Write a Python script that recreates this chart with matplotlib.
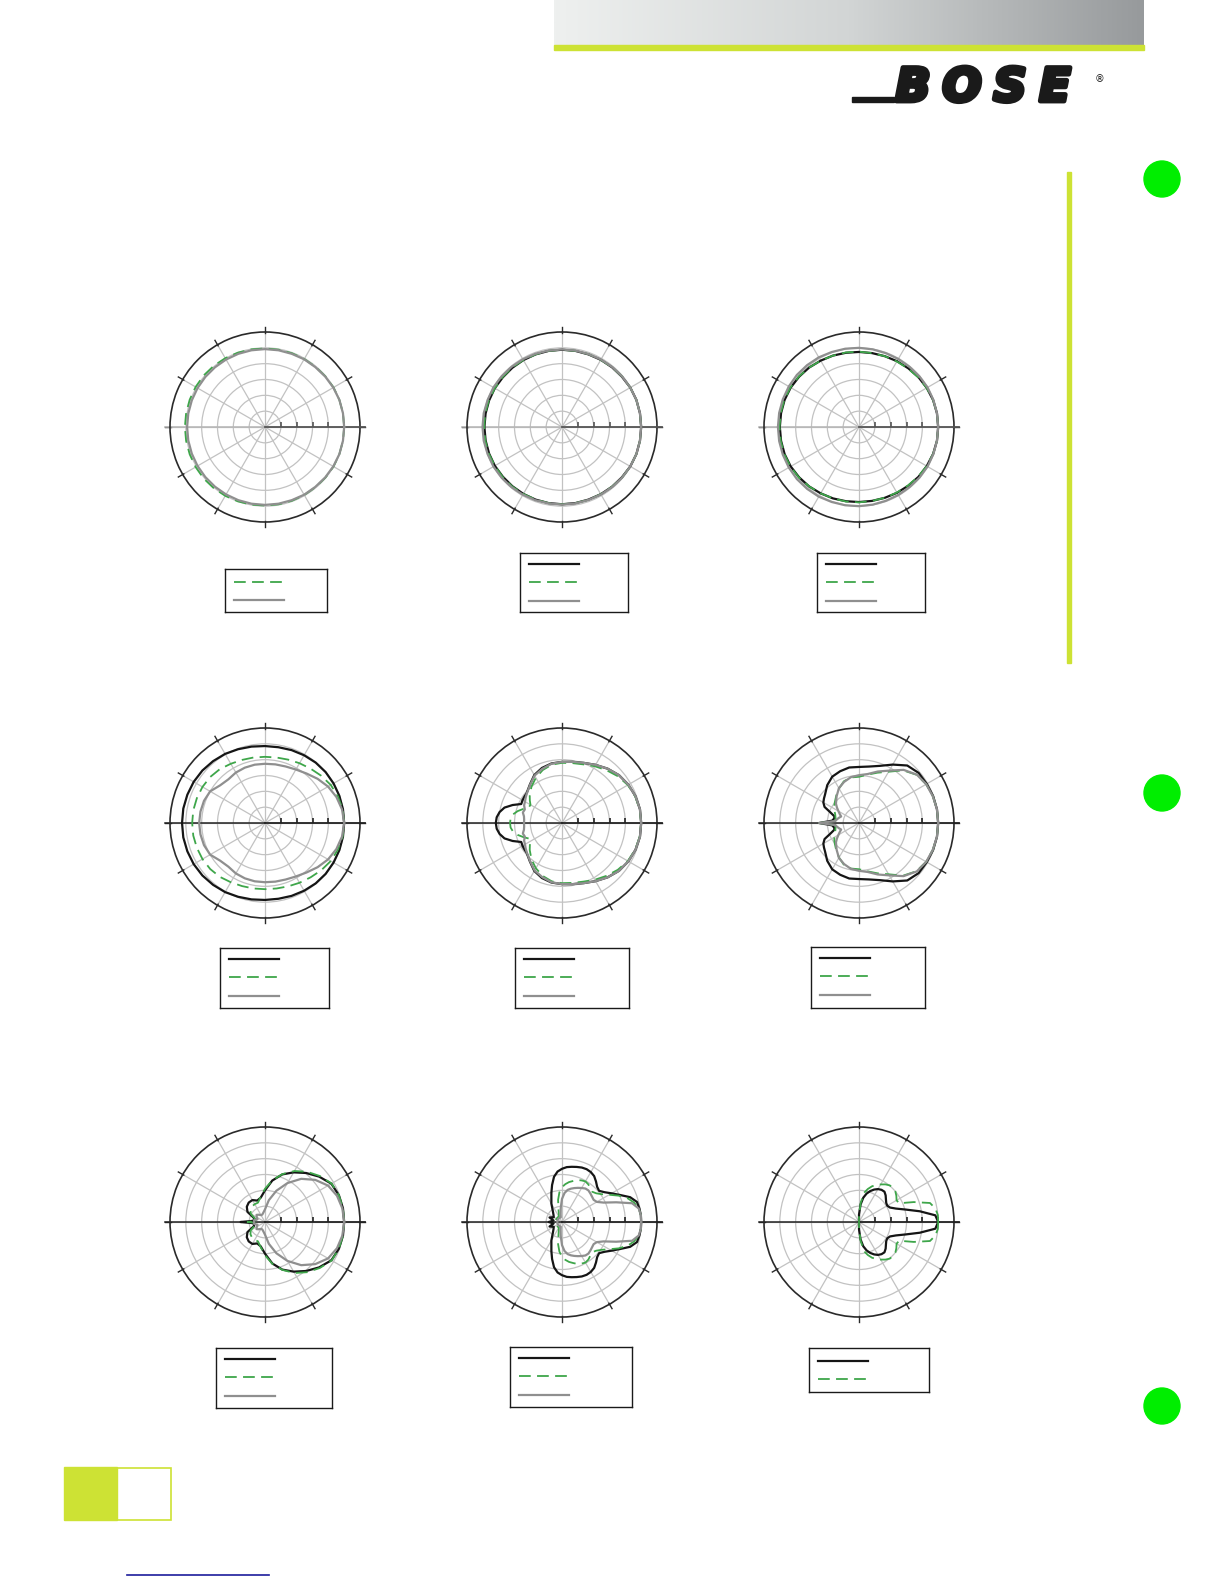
import numpy as np
import matplotlib
matplotlib.use("Agg")
import matplotlib.pyplot as plt
import matplotlib.patheffects as pe
from matplotlib.patches import Rectangle, Circle
from matplotlib.colors import LinearSegmentedColormap

W, H = 1224, 1584

# polar response data, dB relative to on-axis, half plane (pattern is symmetric)
ANG10 = [0, 10, 20, 30, 40, 50, 60, 70, 80, 90, 100, 110, 120, 130, 140, 150, 160, 170, 180]

P1_GREEN = [0, 0, 0, 0, -0.1, -0.2, -0.2, -0.2, -0.2, -0.2, -0.1, 0, 0.1, 0.2, 0.3, 0.3, 0.3, 0.3, 0.3]
P1_GRAY = [0, 0, 0, -0.1, -0.2, -0.3, -0.3, -0.4, -0.4, -0.4, -0.4, -0.4, -0.4, -0.4, -0.4, -0.4, -0.4, -0.4, -0.4]

P2_BLACK = [0, 0, 0, -0.1, -0.3, -0.4, -0.5, -0.6, -0.6, -0.6, -0.6, -0.6, -0.6, -0.6, -0.6, -0.5, -0.5, -0.5, -0.5]
P2_GREEN = [0, 0, 0, -0.1, -0.2, -0.4, -0.5, -0.5, -0.6, -0.6, -0.6, -0.6, -0.6, -0.5, -0.5, -0.5, -0.4, -0.4, -0.4]
P2_GRAY = [0, 0, 0, -0.1, -0.2, -0.3, -0.4, -0.5, -0.5, -0.5, -0.5, -0.4, -0.3, -0.2, -0.1, 0, 0, 0.1, 0.1]

P3_BLACK = [0, 0, -0.1, -0.3, -0.5, -0.8, -1.0, -1.2, -1.3, -1.3, -1.2, -1.0, -0.8, -0.5, -0.3, -0.1, 0, 0, 0]
P3_GREEN = [0, 0, -0.1, -0.3, -0.6, -0.9, -1.1, -1.2, -1.3, -1.2, -1.1, -1.0, -0.8, -0.5, -0.2, 0, 0.1, 0.1, 0.1]
P3_GRAY = [0, 0, 0, 0, -0.1, -0.2, -0.2, -0.2, -0.1, 0, 0.1, 0.2, 0.4, 0.5, 0.6, 0.6, 0.6, 0.6, 0.6]

P4_BLACK = [0, 0, 0, 0, 0, -0.1, -0.3, -0.5, -0.7, -0.7, -0.5, -0.2, 0.2, 0.5, 0.8, 1.0, 1.1, 1.2, 1.2]
P4_GREEN = [0, -0.1, -0.5, -1.0, -1.8, -2.6, -3.2, -3.7, -4.0, -4.1, -4.0, -3.8, -3.4, -2.8, -2.4, -2.2, -2.1, -2.0, -2.0]
P4_GRAY = [0, -0.3, -1.0, -2.0, -3.3, -4.6, -5.5, -6.0, -6.2, -6.3, -6.3, -6.4, -6.6, -7.0, -6.5, -5.0, -4.5, -4.3, -4.2]

ANG_P5 = [0, 10, 20, 30, 40, 50, 60, 70, 80, 90, 100, 110, 120, 130, 140, 145, 150, 155, 160, 165, 170, 175, 180]
P5_BLACK = [0, 0, -0.3, -0.8, -1.5, -2.6, -3.8, -4.8, -5.4, -5.7, -5.9, -6.5, -7.5, -9.2, -10.4, -10.5, -10.6, -10.8,
            -8.4, -6.2, -5.0, -4.3, -4.1]
P5_GREEN = [0, -0.1, -0.4, -1.0, -2.0, -3.2, -4.3, -5.3, -5.8, -6.0, -6.3, -7.2, -8.5, -10.0, -11.7, -12.6, -13.5, -13.4,
            -12.0, -10.5, -9.3, -8.7, -8.6]
P5_GRAY = [0, 0, -0.3, -0.8, -1.5, -2.6, -3.8, -4.8, -5.4, -5.7, -6.0, -6.8, -7.7, -9.3, -10.5, -11.0, -11.5, -11.8,
           -12.5, -12.2, -12.8, -13.0, -13.0]

ANG_P6 = [0, 10, 20, 30, 40, 50, 60, 70, 80, 90, 100, 110, 120, 130, 140, 145, 150, 155, 160, 165, 170, 175, 180]
P6_BLACK = [0, 0, -0.1, -0.3, -0.4, -1.3, -3.7, -5.8, -6.9, -7.3, -7.2, -7.6, -8.1, -9.4, -11.0, -11.5, -12.0, -13.0,
            -15.5, -17.0, -17.0, -16.5, -12.4]
P6_GREEN = [0, 0, -0.2, -0.5, -1.3, -3.3, -6.3, -8.1, -9.5, -10.4, -10.4, -11.0, -12.4, -13.8, -15.0, -15.5, -16.0,
            -16.5, -17.0, -17.3, -17.5, -17.5, -12.4]
P6_GRAY = [0, 0, -0.2, -0.5, -1.2, -3.1, -5.9, -7.7, -9.3, -9.9, -10.3, -11.2, -12.3, -14.0, -15.5, -16.5, -17.5, -18.3,
           -19.0, -18.5, -18.0, -17.5, -12.4]

ANG_P7 = [0, 10, 20, 30, 40, 50, 60, 70, 80, 90, 100, 110, 120, 130, 140, 150, 160, 170, 175, 180]
P7_BLACK = [0, 0, -0.2, -0.8, -2.7, -4.8, -6.9, -9.0, -11.7, -15.0, -17.2, -17.8, -17.0, -17.0, -17.5, -18.6, -21.3,
            -21.5, -21.0, -17.3]
P7_GREEN = [0, 0, -0.2, -0.7, -2.4, -4.3, -6.4, -8.9, -11.6, -14.5, -17.0, -18.5, -18.5, -18.6, -19.0, -19.8, -21.5,
            -22.5, -22.0, -19.5]
P7_GRAY = [0, -0.2, -0.8, -2.0, -4.3, -7.2, -10.8, -14.5, -18.0, -21.0, -22.0, -22.5, -22.5, -22.0, -21.5, -22.0, -22.5,
           -21.5, -21.5, -21.5]

ANG_P8 = [0, 5, 10, 15, 20, 25, 30, 35, 40, 45, 50, 55, 60, 65, 70, 75, 80, 85, 90, 95, 100, 105, 110,
          120, 130, 140, 150, 160, 170, 180]
P8_BLACK = [0, 0, -0.2, -0.5, -2.1, -4.8, -6.9, -8.6, -9.7, -9.3, -8.3, -7.3, -6.8, -6.6, -6.7, -7.0, -7.3, -7.6, -8.2,
            -9.0, -10.5, -12.9, -15.2, -18.3, -20.5, -21.5, -22.0, -20.8, -22.3, -20.8]
P8_GREEN = [0, 0, -0.4, -1.4, -3.0, -5.3, -7.8, -9.7, -10.9, -11.5, -11.1, -10.5, -10.2, -10.5, -10.9, -11.6, -12.2,
            -13.0, -14.0, -15.6, -17.9, -20.7, -22.0, -23.0, -23.0, -23.0, -23.0, -23.0, -23.0, -23.0]
P8_GRAY = [0, 0, -0.4, -2.1, -6.8, -10.5, -12.3, -12.8, -12.6, -12.3, -12.0, -12.1, -12.6, -13.1, -13.6, -14.1, -14.7,
           -15.8, -17.7, -20.5, -22.5, -23.5, -23.5, -23.5, -23.5, -23.5, -23.5, -23.5, -23.5, -23.5]

ANG_P9 = [0, 5, 10, 15, 20, 25, 30, 35, 40, 45, 50, 55, 60, 65, 70, 75, 80, 85, 90,
          100, 110, 120, 130, 140, 150, 160, 170, 180]
P9_BLACK = [0, -0.8, -5.5, -9.8, -12.6, -14.2, -14.7, -14.5, -13.9, -13.1, -12.5, -12.6, -13.0, -13.7, -14.6, -15.7,
            -17.2, -19.5, -22.7, -25, -25, -25, -25, -25, -25, -25, -25, -25]
P9_GREEN = [0, 0, -0.5, -1.8, -6.6, -11.0, -11.3, -10.6, -10.0, -9.8, -9.9, -10.5, -11.3, -12.1, -13.0, -14.2, -15.6,
            -19.0, -23.0, -25, -25, -25, -25, -25, -25, -25, -25, -25]

RINGS = [-20, -15, -10, -5, 0]
R_MIN, R_MAX = -25, 5

LIME = "#cde234"
STYLES = {
    "black": dict(color="#151515", lw=1.6, ls="-"),
    "green": dict(color="#3ea64a", lw=1.3, ls=(0, (6.5, 3.5))),
    "gray": dict(color="#8f8f8f", lw=1.6, ls="-"),
}

# plot centre (px), angle grid, curves, colour of the 0-degree axis
PLOTS = [
    (265, 427, ANG10, [(P1_GREEN, "green"), (P1_GRAY, "gray")], "#555555"),
    (562, 427, ANG10, [(P2_BLACK, "black"), (P2_GREEN, "green"), (P2_GRAY, "gray")], "#555555"),
    (859, 427, ANG10, [(P3_BLACK, "black"), (P3_GREEN, "green"), (P3_GRAY, "gray")], "#555555"),
    (265, 823, ANG10, [(P4_BLACK, "black"), (P4_GREEN, "green"), (P4_GRAY, "gray")], "#222222"),
    (562, 823, ANG_P5, [(P5_BLACK, "black"), (P5_GREEN, "green"), (P5_GRAY, "gray")], "#222222"),
    (859, 823, ANG_P6, [(P6_BLACK, "black"), (P6_GREEN, "green"), (P6_GRAY, "gray")], "#222222"),
    (265, 1222, ANG_P7, [(P7_BLACK, "black"), (P7_GREEN, "green"), (P7_GRAY, "gray")], "#222222"),
    (562, 1222, ANG_P8, [(P8_BLACK, "black"), (P8_GREEN, "green"), (P8_GRAY, "gray")], "#222222"),
    (859, 1222, ANG_P9, [(P9_BLACK, "black"), (P9_GREEN, "green")], "#222222"),
]

# legend boxes (px) and which line styles they hold
LEGENDS = [
    (225, 569, 327, 612, ["green", "gray"]),
    (520, 553, 628, 612, ["black", "green", "gray"]),
    (817, 553, 925, 612, ["black", "green", "gray"]),
    (220, 948, 329, 1008, ["black", "green", "gray"]),
    (515, 948, 629, 1008, ["black", "green", "gray"]),
    (811, 947, 925, 1008, ["black", "green", "gray"]),
    (216, 1348, 332, 1408, ["black", "green", "gray"]),
    (510, 1347, 632, 1407, ["black", "green", "gray"]),
    (809, 1348, 929, 1392, ["black", "green"]),
]


def frac(x0, y0, x1, y1):
    return [x0 / W, 1 - y1 / H, (x1 - x0) / W, (y1 - y0) / H]


fig = plt.figure(figsize=(W / 100, H / 100), dpi=100)
fig.patch.set_facecolor("white")

# page decorations
bg = fig.add_axes([0, 0, 1, 1], zorder=0)
bg.axis("off")
grad = LinearSegmentedColormap.from_list("hdr", ["#eef0ef", "#d2d5d5", "#979a9c"])
bg.imshow(np.linspace(0, 1, 400)[None, :], cmap=grad, extent=(554, 1144, 45, 0), aspect="auto", zorder=1)
bg.add_patch(Rectangle((554, 45), 590, 5, color=LIME, zorder=2))
bg.add_patch(Rectangle((1067, 172), 4, 491, color=LIME))
for yy in [179, 793, 1406]:
    bg.add_patch(Circle((1162, yy), 18, color="#00ee00"))
bg.add_patch(Rectangle((64, 1467), 53, 53, color=LIME))
bg.add_patch(Rectangle((117, 1467.5), 53.5, 52, fill=False, ec=LIME, lw=1.2))
bg.plot([127, 269], [1575, 1575], color="#1c1c9c", lw=1.2)

# logo
bg.add_patch(Rectangle((852, 97), 42, 4.5, color="#1a1a1a"))
for ch, xx in zip("BOSE", [913, 962, 1010, 1055]):
    bg.text(xx, 101, ch, fontsize=33, fontweight="bold", style="italic",
            family="DejaVu Sans", ha="center", va="baseline", color="#1a1a1a",
            path_effects=[pe.withStroke(linewidth=3.5, foreground="#1a1a1a")])
bg.text(1100, 79, "\u00ae", fontsize=7, ha="center", va="center", color="#1a1a1a")
bg.set_xlim(0, W)
bg.set_ylim(H, 0)

R = 95
for cx, cy, ang, curves, axc in PLOTS:
    ax = fig.add_axes(frac(cx - R, cy - R, cx + R, cy + R), projection="polar", zorder=2)
    ax.set_ylim(R_MIN, R_MAX)
    ax.set_yticks(RINGS)
    ax.set_xticks(np.deg2rad(np.arange(0, 360, 30)))
    ax.set_xticklabels([])
    ax.set_yticklabels([])
    ax.tick_params(length=0)
    ax.grid(color="#c2c2c2", lw=0.9)
    ax.spines["polar"].set_color("#2a2a2a")
    ax.spines["polar"].set_linewidth(1.2)

    for a in np.arange(0, 360, 30):
        ax.plot([np.deg2rad(a)] * 2, [4.6, 6.6], color="#2a2a2a", lw=1.0, clip_on=False)
    ax.plot([0, 0], [R_MIN, 6.6], color=axc, lw=1.3, clip_on=False, zorder=3)
    ax.plot([np.pi, np.pi], [R_MIN, 6.6], color=axc if axc != "#555555" else "#b5b5b5",
            lw=1.1, clip_on=False, zorder=2.5)
    ax.plot(np.zeros(len(RINGS)), RINGS, ls="none", marker=2, ms=3.5, mew=1.2,
            color=axc, zorder=3)

    a = np.array(ang, dtype=float)
    th = np.deg2rad(np.r_[a, 360 - a[-2::-1]])
    for vals, key in curves:
        v = np.array(vals, dtype=float)
        rr = np.r_[v, v[-2::-1]]
        ax.plot(th, rr, zorder=4, solid_joinstyle="round", **STYLES[key])

for x0, y0, x1, y1, keys in LEGENDS:
    lg = fig.add_axes(frac(x0, y0, x1, y1), zorder=2)
    lg.set_xlim(0, x1 - x0)
    lg.set_ylim(y1 - y0, 0)
    lg.set_xticks([])
    lg.set_yticks([])
    for s in lg.spines.values():
        s.set_linewidth(1.0)
        s.set_color("#1a1a1a")
    offs = [10.5, 29, 47.5] if len(keys) == 3 else [12.5, 31]
    for key, oy in zip(keys, offs):
        lg.plot([9, 59], [oy, oy], **STYLES[key])

fig.savefig("out.png", dpi=100)
